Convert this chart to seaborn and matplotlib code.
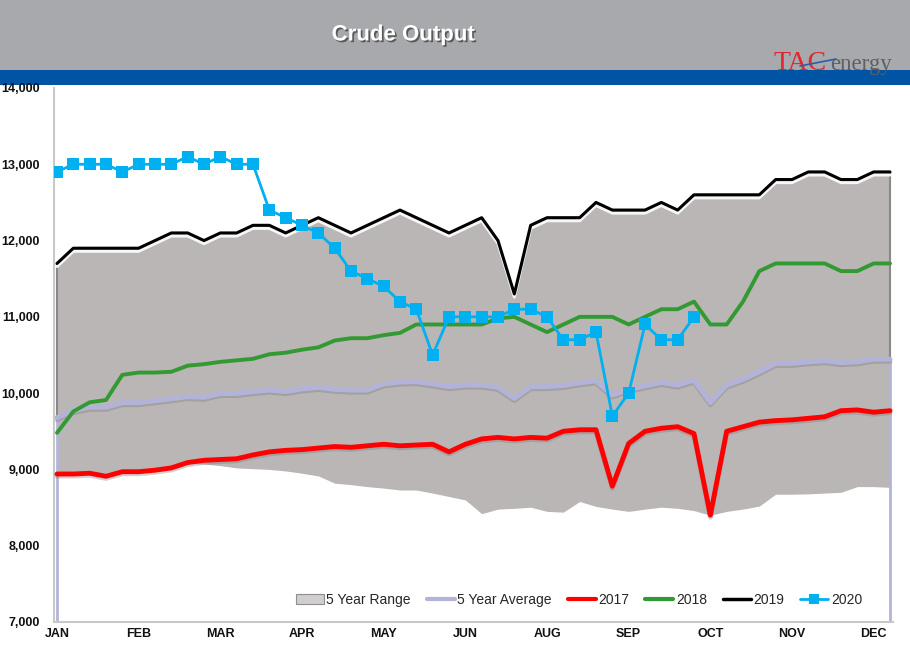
import matplotlib
matplotlib.use("Agg")
import numpy as np
import pandas as pd
import seaborn as sns
import matplotlib.pyplot as plt
from matplotlib import patheffects as pe
from matplotlib.patches import Rectangle, Patch
from matplotlib.lines import Line2D
from matplotlib.ticker import FuncFormatter

# ---------------- data ----------------
weeks = list(range(1, 53))
month_labels = ["JAN", "FEB", "MAR", "APR", "MAY", "JUN", "AUG", "SEP", "OCT", "NOV", "DEC"]
month_weeks = [1, 6, 11, 16, 21, 26, 31, 36, 41, 46, 51]

range_high = [11700, 11900, 11900, 11900, 11900, 11900, 12000, 12100, 12100, 12000, 12100, 12100,
              12200, 12200, 12100, 12200, 12300, 12200, 12100, 12200, 12300, 12400, 12300, 12200,
              12100, 12200, 12300, 12000, 11300, 12200, 12300, 12300, 12300, 12500, 12400, 12400,
              12400, 12500, 12400, 12600, 12600, 12600, 12600, 12600, 12800, 12800, 12900, 12900,
              12800, 12800, 12900, 12900]
range_low = [8940, 8940, 8950, 8910, 8970, 8970, 8990, 9020, 9080, 9070, 9050, 9020,
             9010, 9000, 8980, 8950, 8915, 8820, 8800, 8775, 8755, 8730, 8730, 8690,
             8645, 8600, 8420, 8480, 8490, 8505, 8450, 8440, 8580, 8515, 8480, 8450,
             8480, 8505, 8490, 8460, 8400, 8450, 8480, 8520, 8675, 8675, 8680, 8690,
             8700, 8775, 8775, 8765]
avg5 = [9680, 9770, 9815, 9815, 9875, 9875, 9900, 9925, 9955, 9945, 9995, 9995,
        10020, 10040, 10020, 10055, 10075, 10050, 10040, 10040, 10120, 10145, 10150, 10120,
        10085, 10105, 10105, 10075, 9930, 10085, 10085, 10100, 10135, 10160, 9975, 10050,
        10095, 10140, 10105, 10170, 9875, 10105, 10180, 10280, 10390, 10390, 10410, 10425,
        10400, 10410, 10445, 10445]
y2017 = [8940, 8940, 8950, 8910, 8970, 8970, 8990, 9020, 9090, 9120, 9130, 9140,
         9190, 9230, 9250, 9260, 9280, 9300, 9290, 9310, 9330, 9310, 9320, 9330,
         9230, 9330, 9400, 9420, 9400, 9420, 9410, 9500, 9520, 9520, 8780, 9340,
         9500, 9540, 9560, 9470, 8400, 9500, 9560, 9620, 9640, 9650, 9670, 9690,
         9770, 9780, 9750, 9770]
y2018 = [9480, 9760, 9880, 9910, 10240, 10270, 10270, 10280, 10360, 10380, 10410, 10430,
         10450, 10510, 10530, 10570, 10600, 10690, 10720, 10720, 10760, 10790, 10900, 10900,
         10900, 10900, 10900, 10980, 11000, 10900, 10800, 10900, 11000, 11000, 11000, 10900,
         11000, 11100, 11100, 11200, 10900, 10900, 11200, 11600, 11700, 11700, 11700, 11700,
         11600, 11600, 11700, 11700]
y2019 = [11700, 11900, 11900, 11900, 11900, 11900, 12000, 12100, 12100, 12000, 12100, 12100,
         12200, 12200, 12100, 12200, 12300, 12200, 12100, 12200, 12300, 12400, 12300, 12200,
         12100, 12200, 12300, 12000, 11300, 12200, 12300, 12300, 12300, 12500, 12400, 12400,
         12400, 12500, 12400, 12600, 12600, 12600, 12600, 12600, 12800, 12800, 12900, 12900,
         12800, 12800, 12900, 12900]
y2020 = [12900, 13000, 13000, 13000, 12900, 13000, 13000, 13000, 13100, 13000, 13100, 13000,
         13000, 12400, 12300, 12200, 12100, 11900, 11600, 11500, 11400, 11200, 11100, 10500,
         11000, 11000, 11000, 11000, 11100, 11100, 11000, 10700, 10700, 10800, 9700, 10000,
         10900, 10700, 10700, 11000]

# ---------------- styling ----------------
sns.set_theme(style="white")
plt.rcParams["font.family"] = ["Liberation Sans", "DejaVu Sans"]

W, H = 910, 659
fig = plt.figure(figsize=(W / 100, H / 100), dpi=100)
fig.patch.set_facecolor("white")

# header
fig.add_artist(Rectangle((0, 1 - 70 / H), 1, 70 / H, transform=fig.transFigure,
                         facecolor="#A7A9AC", edgecolor="none", zorder=0))
fig.add_artist(Rectangle((0, 1 - 85 / H), 1, 15 / H, transform=fig.transFigure,
                         facecolor="#0054A4", edgecolor="none", zorder=0))
fig.text(403 / W, 1 - 35 / H, "Crude Output", color="white", fontsize=16, fontweight="bold",
         ha="center", va="center",
         path_effects=[pe.withSimplePatchShadow(offset=(1.2, -1.2), shadow_rgbFace="#444444", alpha=0.8)])
fig.text(774 / W, 1 - 70 / H, "TAC", color="#E0282E", fontsize=20, family="Liberation Serif",
         ha="left", va="baseline", zorder=3)
fig.text(830 / W, 1 - 70 / H, "energy", color="#5F6062", fontsize=16.5, family="Liberation Serif",
         ha="left", va="baseline", zorder=3)
fig.add_artist(Line2D([800 / W, 836 / W], [1 - 66 / H, 1 - 59 / H], transform=fig.transFigure,
                      color="#2B5DB0", lw=1.2, zorder=4))

# axes
x_left, x_right, y_top, y_bot = 54, 893, 88, 622
ax = fig.add_axes([x_left / W, 1 - y_bot / H, (x_right - x_left) / W, (y_bot - y_top) / H])
ax.set_facecolor("none")
pxw = (890 - 57) / 51
ax.set_xlim(weeks[0] - (57 - x_left) / pxw, weeks[-1] + (x_right - 890) / pxw)
ax.set_ylim(7000, 14000)

# 5 year range
ax.fill_between(weeks, range_low, range_high, color="#BAB6B5", lw=0, zorder=1)
ax.vlines([weeks[0], weeks[-1]], 7000, [avg5[0], avg5[-1]], color="#B4B4D8", lw=2, zorder=1.5)
ax.vlines([weeks[0], weeks[-1]], [avg5[0], avg5[-1]], [range_high[0], range_high[-1]],
          color="#8C8888", lw=1.5, zorder=1.5)

shadow = [pe.SimpleLineShadow(offset=(0, -1.5), shadow_color="#7a7a7a", alpha=0.35), pe.Normal()]
sns.lineplot(x=weeks, y=avg5, ax=ax, color="#B3B3DA", linewidth=3.5, zorder=2,
             path_effects=shadow)
sns.lineplot(x=weeks, y=y2017, ax=ax, color="#FF0000", linewidth=3.5, zorder=3,
             path_effects=shadow)
sns.lineplot(x=weeks, y=y2018, ax=ax, color="#339933", linewidth=2.8, zorder=3)
sns.lineplot(x=weeks, y=y2019, ax=ax, color="black", linewidth=2.2, zorder=4,
             path_effects=[pe.SimpleLineShadow(offset=(0, -2.2), shadow_color="white", alpha=0.9),
                           pe.Normal()])
sns.lineplot(x=weeks[:len(y2020)], y=y2020, ax=ax, color="#00B0F0", linewidth=2,
             marker="s", markersize=8, markeredgewidth=0, zorder=5)

# axes formatting
ax.set_xticks(month_weeks)
ax.set_xticklabels(month_labels)
ax.set_yticks(range(7000, 14001, 1000))
ax.yaxis.set_major_formatter(FuncFormatter(lambda v, p: f"{int(v):,}"))
ax.tick_params(axis="both", length=0, labelsize=9, labelcolor="#111111")
ax.tick_params(axis="y", pad=10)
ax.tick_params(axis="x", pad=4)
for lab in ax.get_xticklabels() + ax.get_yticklabels():
    lab.set_fontweight("bold")
for s in ["top", "right"]:
    ax.spines[s].set_visible(False)
for s in ["left", "bottom"]:
    ax.spines[s].set_color("#C8C8C8")
    ax.spines[s].set_linewidth(1.5)
ax.grid(False)
ax.set_xlabel("")
ax.set_ylabel("")

# legend
handles = [
    Patch(facecolor="#D0CECE", edgecolor="#8E8E8E", linewidth=0.8),
    Line2D([], [], color="#B3B3DA", lw=3),
    Line2D([], [], color="#FF0000", lw=3),
    Line2D([], [], color="#339933", lw=3),
    Line2D([], [], color="black", lw=2.5),
    Line2D([], [], color="#00B0F0", lw=2, marker="s", markersize=7, markeredgewidth=0),
]
labels = ["5 Year Range", "5 Year Average", "2017", "2018", "2019", "2020"]
ax.legend(handles, labels, loc="center",
          bbox_to_anchor=(((292 + 866) / 2 - x_left) / (x_right - x_left), (y_bot - 600) / (y_bot - y_top)),
          ncol=6, frameon=False, fontsize=10, handlelength=2.0, handletextpad=0.2,
          columnspacing=1.15, borderaxespad=0)

fig.savefig("out.png", dpi=100)
